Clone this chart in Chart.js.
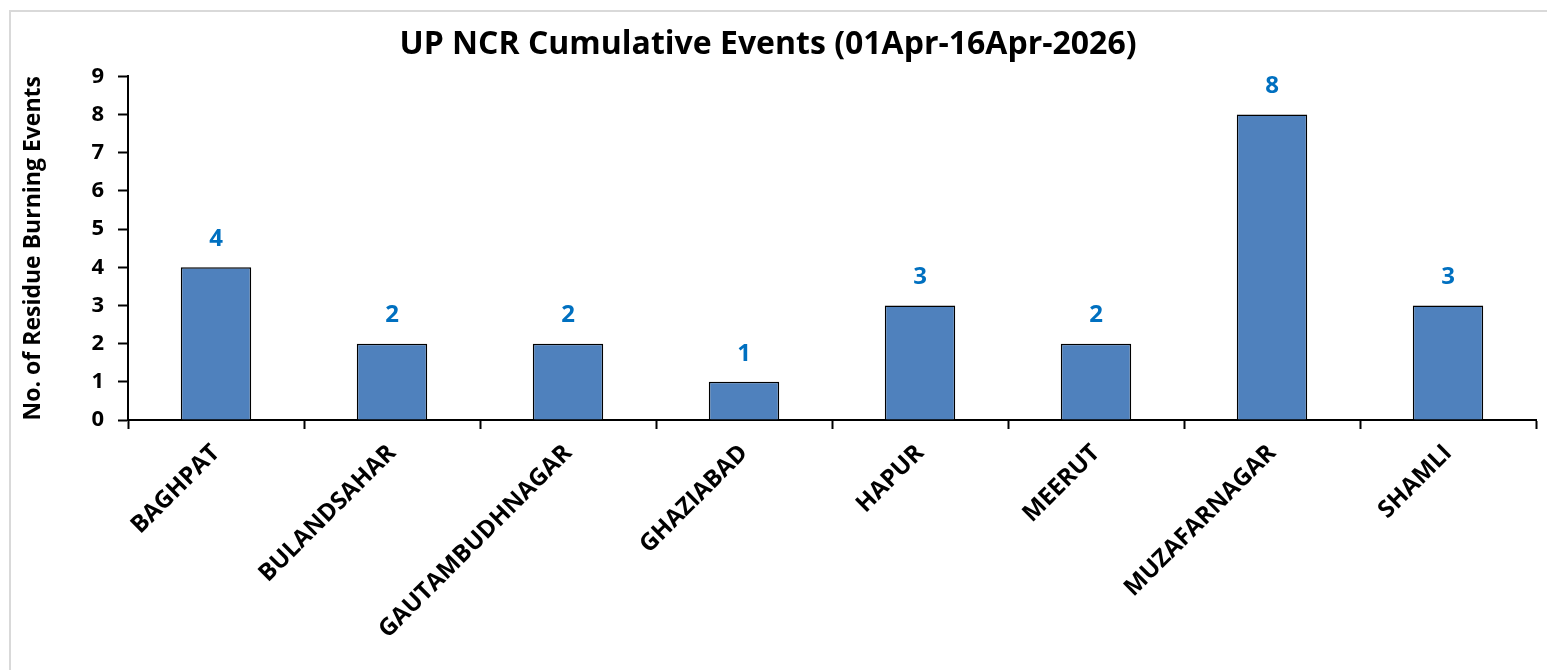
<!DOCTYPE html>
<html>
<head>
<meta charset="utf-8">
<script src="https://cdn.jsdelivr.net/npm/chart.js@4.4.1/dist/chart.umd.min.js"></script>
<style>
  html, body { margin: 0; padding: 0; background: #fff; }
  #wrap { position: relative; width: 1547px; height: 670px; overflow: hidden; }
  #frame { position: absolute; left: 9px; top: 10px; width: 1545px; height: 670px; border: 2px solid #d9d9d9; box-sizing: border-box; pointer-events: none; }
  canvas { position: absolute; left: 0; top: 0; }
</style>
</head>
<body>
<div id="wrap">
  <canvas id="chart" width="1547" height="670"></canvas>
  <div id="frame"></div>
</div>
<script>
// data
const districts = ["BAGHPAT", "BULANDSAHAR", "GAUTAMBUDHNAGAR", "GHAZIABAD", "HAPUR", "MEERUT", "MUZAFARNAGAR", "SHAMLI"];
const events = [4, 2, 2, 1, 3, 2, 8, 3];
const yTicks = [0, 1, 2, 3, 4, 5, 6, 7, 8, 9];

const FONT = "'Open Sans', sans-serif";

// value labels above each bar
const barLabels = {
    id: "barLabels",
    afterDatasetsDraw(chart) {
        const ctx = chart.ctx;
        const meta = chart.getDatasetMeta(0);
        ctx.save();
        ctx.font = "bold 24px " + FONT;
        ctx.fillStyle = "#0070C0";
        ctx.textAlign = "center";
        ctx.textBaseline = "middle";
        meta.data.forEach((bar, i) => {
            ctx.fillText(events[i], bar.x, bar.y - 28);
        });
        ctx.restore();
    }
};

new Chart(document.getElementById("chart"), {
    type: "bar",
    data: {
        labels: districts,
        datasets: [{
            data: events,
            backgroundColor: "#4F81BD",
            borderColor: "#000000",
            borderWidth: 1.5,
            barPercentage: 0.4,
            categoryPercentage: 1.0
        }]
    },
    options: {
        responsive: false,
        animation: false,
        layout: { padding: { top: 11, right: 11, left: 0, bottom: 0 } },
        plugins: {
            legend: { display: false },
            tooltip: { enabled: false },
            title: {
                display: true,
                text: "UP NCR Cumulative Events (01Apr-16Apr-2026)",
                color: "#000",
                font: { family: FONT, size: 32, weight: "bold" },
                padding: { top: 15, bottom: 12 }
            }
        },
        scales: {
            x: {
                grid: {
                    offset: true,
                    drawOnChartArea: false,
                    drawTicks: true,
                    tickLength: 9,
                    tickColor: "#000",
                    tickWidth: 2
                },
                border: { display: true, color: "#000", width: 2 },
                ticks: {
                    color: "#000",
                    font: { family: FONT, size: 24, weight: "bold" },
                    minRotation: 45,
                    maxRotation: 45,
                    autoSkip: false,
                    padding: 10
                },
                afterFit(scale) { scale.height = 250; }
            },
            y: {
                min: 0,
                max: 9,
                afterBuildTicks(scale) { scale.ticks = yTicks.map(v => ({ value: v })); },
                grid: {
                    drawOnChartArea: false,
                    drawTicks: true,
                    tickLength: 10,
                    tickColor: "#000",
                    tickWidth: 2
                },
                border: { display: true, color: "#000", width: 2 },
                ticks: {
                    color: "#000",
                    font: { family: FONT, size: 22, weight: "bold" },
                    padding: 14
                },
                title: {
                    display: true,
                    text: "No. of Residue Burning Events",
                    color: "#000",
                    font: { family: FONT, size: 23, weight: "bold" },
                    padding: { top: 20, bottom: 0 }
                },
                afterFit(scale) { scale.width = 128; }
            }
        }
    },
    plugins: [barLabels]
});
</script>
</body>
</html>
